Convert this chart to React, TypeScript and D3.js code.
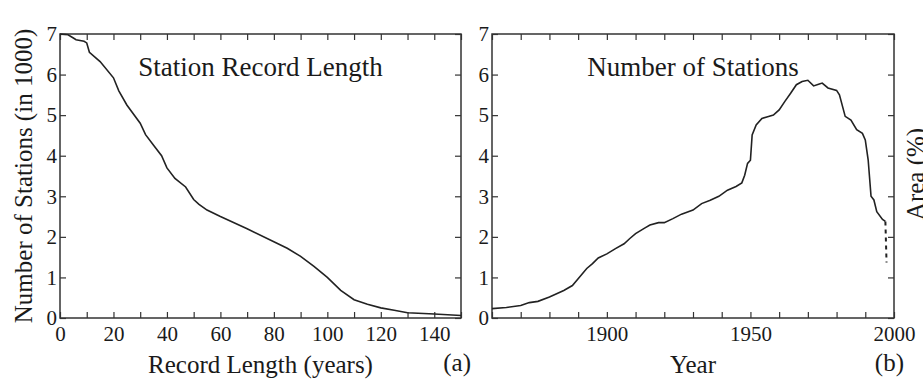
import React, { useEffect, useRef } from 'react'
import * as d3 from 'd3'

// panel (a): stations vs record length
const recordYears = [0, 3, 5, 6, 9, 10, 11, 15, 20, 22, 25, 30, 32, 35, 38, 40, 43, 47, 50, 52, 55, 60, 70, 80, 85, 90, 95, 100, 105, 110, 115, 120, 125, 130, 140, 150]
const stationsByLength = [7.0, 6.98, 6.9, 6.86, 6.82, 6.78, 6.55, 6.32, 5.92, 5.6, 5.25, 4.8, 4.52, 4.26, 4.0, 3.7, 3.44, 3.23, 2.92, 2.8, 2.66, 2.5, 2.2, 1.88, 1.72, 1.52, 1.27, 1.0, 0.68, 0.45, 0.34, 0.25, 0.19, 0.13, 0.1, 0.06]

// panel (b): stations vs year
const years = [1860, 1865, 1870, 1873, 1876, 1880, 1885, 1888, 1890, 1893, 1895, 1897, 1900, 1903, 1906, 1908, 1910, 1913, 1915, 1918, 1920, 1923, 1926, 1930, 1933, 1936, 1939, 1942, 1945, 1947, 1948, 1949, 1950, 1950.6, 1952, 1954, 1956, 1958, 1960, 1962, 1964, 1966, 1968, 1970, 1972, 1974, 1975, 1977, 1980, 1981, 1983, 1985, 1987, 1989, 1990, 1991, 1992, 1993, 1994, 1996, 1997]
const stationsByYear = [0.23, 0.26, 0.31, 0.38, 0.41, 0.52, 0.68, 0.8, 0.97, 1.22, 1.34, 1.48, 1.58, 1.71, 1.83, 1.96, 2.08, 2.21, 2.29, 2.35, 2.35, 2.45, 2.56, 2.66, 2.82, 2.9, 3.0, 3.15, 3.24, 3.33, 3.52, 3.81, 3.89, 4.51, 4.76, 4.92, 4.96, 5.0, 5.13, 5.34, 5.54, 5.75, 5.83, 5.86, 5.72, 5.77, 5.79, 5.67, 5.61, 5.5, 4.97, 4.88, 4.64, 4.55, 4.39, 3.9, 3.0, 2.91, 2.62, 2.43, 2.38]
const dottedYears = [1997, 1997.4]
const dottedValues = [2.38, 1.37]

const yTicks = [0, 1, 2, 3, 4, 5, 6, 7]
const lengthTicks = d3.range(0, 151, 10)
const lengthLabels = [0, 20, 40, 60, 80, 100, 120, 140]
const yearTicks = d3.range(1860, 2001, 10)
const yearLabels = [1900, 1950, 2000]

const W = 923
const H = 386
const serif = '"Liberation Serif", "Times New Roman", serif'
const ink = '#1a1a1a'

const App = () => {
  const ref = useRef<SVGSVGElement>(null)

  useEffect(() => {
    const svg = d3.select(ref.current)
    svg.selectAll('*').remove()

    const top = 34, bottom = 318

    const drawPanel = (opts: any) => {
      const { left, right, xDomain, xTicks, xLabels, title, xTitle, tag, series } = opts
      const x = d3.scaleLinear().domain(xDomain).range([left, right])
      const y = d3.scaleLinear().domain([0, 7]).range([bottom, top])
      const g = svg.append('g')

      const fmtX = (d: any) => (xLabels.includes(d) ? String(d) : '')
      const styleAxis = (sel: any) => {
        sel.attr('font-family', serif).attr('font-size', 21)
        sel.selectAll('text').attr('fill', ink)
        sel.selectAll('line').attr('stroke', '#333').attr('stroke-width', 1.2)
        sel.select('.domain').remove()
      }

      g.append('g').attr('transform', `translate(0,${bottom})`)
        .call(d3.axisBottom(x).tickValues(xTicks).tickFormat(fmtX).tickSizeInner(-6).tickSizeOuter(0).tickPadding(8))
        .call(styleAxis)
      g.append('g').attr('transform', `translate(0,${top})`)
        .call(d3.axisTop(x).tickValues(xTicks).tickFormat(() => '').tickSizeInner(-6).tickSizeOuter(0))
        .call(styleAxis)
      g.append('g').attr('transform', `translate(${left},0)`)
        .call(d3.axisLeft(y).tickValues(yTicks).tickFormat(d3.format('d')).tickSizeInner(-6).tickSizeOuter(0).tickPadding(3))
        .call(styleAxis)
      g.append('g').attr('transform', `translate(${right},0)`)
        .call(d3.axisRight(y).tickValues(yTicks).tickFormat(() => '').tickSizeInner(-6).tickSizeOuter(0))
        .call(styleAxis)

      g.append('rect')
        .attr('x', left).attr('y', top)
        .attr('width', right - left).attr('height', bottom - top)
        .attr('fill', 'none').attr('stroke', '#333').attr('stroke-width', 1.5)

      const line = d3.line<[number, number]>().x((d) => x(d[0])).y((d) => y(d[1]))
      series.forEach((s: any) => {
        g.append('path')
          .datum(d3.zip(s.xs, s.ys))
          .attr('d', line as any)
          .attr('fill', 'none')
          .attr('stroke', '#222')
          .attr('stroke-width', s.dashed ? 2 : 1.6)
          .attr('stroke-dasharray', s.dashed ? '4,4' : null)
      })

      const cx = (left + right) / 2
      g.append('text').attr('x', cx).attr('y', 76).attr('text-anchor', 'middle')
        .attr('font-family', serif).attr('font-size', 27).attr('fill', ink).text(title)
      g.append('text').attr('x', cx).attr('y', 373).attr('text-anchor', 'middle')
        .attr('font-family', serif).attr('font-size', 25).attr('fill', ink).text(xTitle)
      g.append('text').attr('x', right + 10).attr('y', 371).attr('text-anchor', 'end')
        .attr('font-family', serif).attr('font-size', 25).attr('fill', ink).text(tag)
    }

    drawPanel({
      left: 60, right: 461, xDomain: [0, 150], xTicks: lengthTicks, xLabels: lengthLabels,
      title: 'Station Record Length', xTitle: 'Record Length (years)', tag: '(a)',
      series: [{ xs: recordYears, ys: stationsByLength }],
    })
    drawPanel({
      left: 492, right: 894, xDomain: [1860, 2000], xTicks: yearTicks, xLabels: yearLabels,
      title: 'Number of Stations', xTitle: 'Year', tag: '(b)',
      series: [
        { xs: years, ys: stationsByYear },
        { xs: dottedYears, ys: dottedValues, dashed: true },
      ],
    })

    // rotated axis titles
    svg.append('text')
      .attr('transform', `translate(32,176) rotate(-90)`)
      .attr('text-anchor', 'middle')
      .attr('font-family', serif).attr('font-size', 25).attr('fill', ink)
      .text('Number of Stations (in 1000)')
    svg.append('text')
      .attr('transform', `translate(924,174) rotate(-90)`)
      .attr('text-anchor', 'middle')
      .attr('font-family', serif).attr('font-size', 25).attr('fill', ink)
      .text('Area (%)')
  }, [])

  return (
    <svg
      ref={ref}
      width={W}
      height={H}
      style={{ position: 'absolute', left: 0, top: 0, background: '#fff' }}
    />
  )
}

export default App
